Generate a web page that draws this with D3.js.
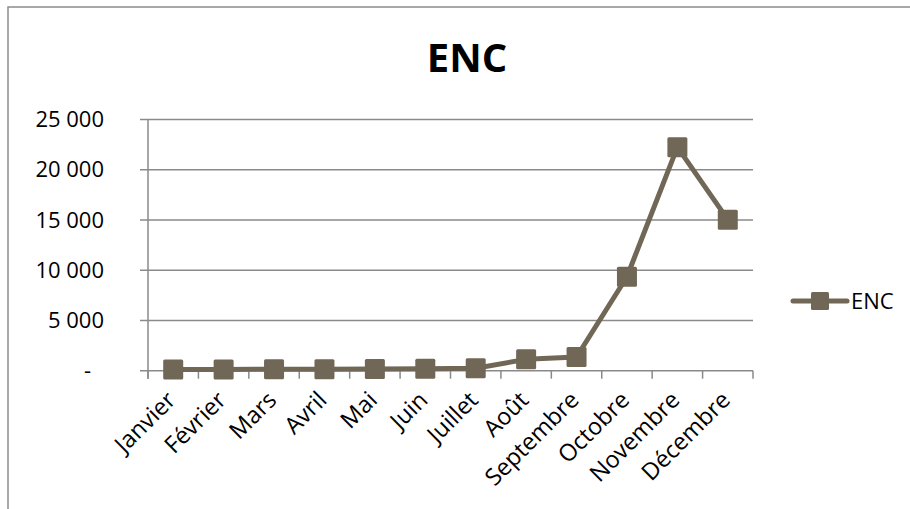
<!DOCTYPE html>
<html>
<head>
<meta charset="utf-8">
<script src="https://cdn.jsdelivr.net/npm/d3@7"></script>
<style>
  body { margin: 0; background: #fff; }
  svg { display: block; font-family: "Open Sans", "Noto Sans", sans-serif; }
</style>
</head>
<body>
<svg id="chart"></svg>
<script>
const months = ['Janvier', 'Février', 'Mars', 'Avril', 'Mai', 'Juin', 'Juillet', 'Août',
  'Septembre', 'Octobre', 'Novembre', 'Décembre'];
const encValues = [130, 130, 150, 150, 160, 190, 240, 1130, 1360, 9350, 22250, 15030];
const yTicks = [0, 5000, 10000, 15000, 20000, 25000];
const seriesName = 'ENC';

const W = 910, H = 509;
const margin = {left: 148, right: 157, top: 119.5, bottom: 138.3};
const width = W - margin.left - margin.right;
const height = H - margin.top - margin.bottom;
const color = '#716756';
const gridColor = '#8a8a8a';

const svg = d3.select('#chart').attr('width', W).attr('height', H);

// chart frame (only top and left edges show in the picture)
svg.append('rect')
  .attr('x', 8).attr('y', 7)
  .attr('width', W + 20).attr('height', H + 20)
  .attr('fill', 'none')
  .attr('stroke', '#8c8c8c')
  .attr('stroke-width', 1.5);

svg.append('text')
  .attr('x', 467).attr('y', 72)
  .attr('text-anchor', 'middle')
  .attr('font-size', 40)
  .attr('font-weight', 'bold')
  .text(seriesName);

const g = svg.append('g')
  .attr('transform', `translate(${margin.left}, ${margin.top})`);

const x = d3.scaleBand().domain(months).range([0, width]);
const y = d3.scaleLinear().domain([0, 25000]).range([height, 0]);

const fmt = d => d === 0 ? '-' : d3.format(',')(d).replace(/,/g, ' ');

// gridlines
g.append('g')
  .selectAll('line')
  .data(yTicks)
  .enter()
  .append('line')
  .attr('x1', -8).attr('x2', width)
  .attr('y1', d => y(d)).attr('y2', d => y(d))
  .attr('stroke', gridColor)
  .attr('stroke-width', 1.5);

// y labels
g.append('g')
  .selectAll('text')
  .data(yTicks)
  .enter()
  .append('text')
  .attr('x', d => d === 0 ? -57 : -44)
  .attr('y', d => y(d))
  .attr('dy', '0.35em')
  .attr('text-anchor', 'end')
  .attr('font-size', 22)
  .attr('fill', '#000')
  .text(fmt);

// y axis line
g.append('line')
  .attr('x1', 0).attr('x2', 0)
  .attr('y1', 0).attr('y2', height + 8)
  .attr('stroke', gridColor)
  .attr('stroke-width', 1.5);

// x ticks at band boundaries
const bounds = months.map(m => x(m)).concat([width]);
g.append('g')
  .selectAll('line')
  .data(bounds)
  .enter()
  .append('line')
  .attr('x1', d => d).attr('x2', d => d)
  .attr('y1', height).attr('y2', height + 8)
  .attr('stroke', gridColor)
  .attr('stroke-width', 1.5);

// x labels, rotated
g.append('g')
  .selectAll('text')
  .data(months)
  .enter()
  .append('text')
  .attr('transform', d => {
    const cx = x(d) + x.bandwidth() / 2 - 2;
    const cy = height + 25;
    return `translate(${cx}, ${cy}) rotate(-45)`;
  })
  .attr('text-anchor', 'end')
  .attr('dy', '0.35em')
  .attr('font-size', 23.5)
  .attr('fill', '#000')
  .text(d => d);

const line = d3.line()
  .x((d, i) => x(months[i]) + x.bandwidth() / 2)
  .y(d => y(d));

g.append('path')
  .datum(encValues)
  .attr('d', line)
  .attr('fill', 'none')
  .attr('stroke', color)
  .attr('stroke-width', 5)
  .attr('stroke-linejoin', 'round');

const mSize = 20;
g.selectAll('rect.marker')
  .data(encValues)
  .enter()
  .append('rect')
  .attr('class', 'marker')
  .attr('x', (d, i) => x(months[i]) + x.bandwidth() / 2 - mSize / 2)
  .attr('y', d => y(d) - mSize / 2)
  .attr('width', mSize).attr('height', mSize)
  .attr('rx', 1.5)
  .attr('fill', color);

// legend
const legend = svg.append('g').attr('transform', 'translate(793, 301)');
legend.append('line')
  .attr('x1', 0).attr('x2', 54)
  .attr('stroke', color)
  .attr('stroke-width', 5)
  .attr('stroke-linecap', 'round');
legend.append('rect')
  .attr('x', 18).attr('y', -9)
  .attr('width', 18).attr('height', 18)
  .attr('rx', 1.5)
  .attr('fill', color);
legend.append('text')
  .attr('x', 58).attr('dy', '0.35em')
  .attr('font-size', 22)
  .text(seriesName);
</script>
</body>
</html>
